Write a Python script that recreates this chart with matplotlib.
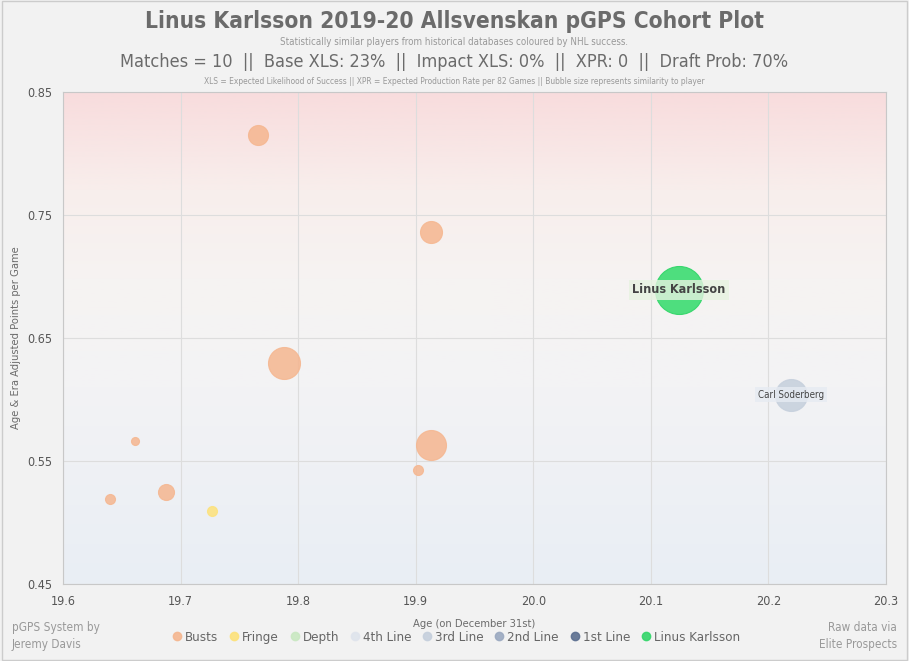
import numpy as np
import matplotlib
matplotlib.use("Agg")
import matplotlib.pyplot as plt
from matplotlib.colors import LinearSegmentedColormap
from matplotlib.lines import Line2D

# cohort players (age, adjusted PPG, bubble radius in px, tier)
ages = [19.766, 19.913, 19.788, 19.913, 19.902, 19.661, 19.640, 19.688, 19.727, 20.219, 20.124]
ppg = [0.815, 0.736, 0.630, 0.563, 0.543, 0.566, 0.519, 0.525, 0.509, 0.604, 0.689]
radius = [10, 11, 16, 15, 5, 4, 5, 8, 5, 16, 24]
tiers = ["Busts", "Busts", "Busts", "Busts", "Busts", "Busts", "Busts", "Busts",
         "Fringe", "3rd Line", "Linus Karlsson"]
names = ["", "", "", "", "", "", "", "", "", "Carl Soderberg", "Linus Karlsson"]

legend_tiers = ["Busts", "Fringe", "Depth", "4th Line", "3rd Line", "2nd Line", "1st Line", "Linus Karlsson"]
tier_colors = ["#f5b68f", "#fde27a", "#c9e8c2", "#dfe4ec", "#c5cfdc", "#9ba9c0", "#5c6f90", "#33d66a"]
cmap = dict(zip(legend_tiers, tier_colors))

xticks = [19.6, 19.7, 19.8, 19.9, 20.0, 20.1, 20.2, 20.3]
yticks = [0.45, 0.55, 0.65, 0.75, 0.85]

plt.rcParams['font.family'] = ['DejaVu Sans']
plt.rcParams['font.stretch'] = 'condensed'
grey = "#6b6b6b"

fig = plt.figure(figsize=(9.09, 6.61), dpi=100, facecolor="#f2f2f2")
ax = fig.add_axes([0.0693, 0.1165, 0.9054, 0.7445])

# background gradient
grad = LinearSegmentedColormap.from_list(
    "bg", [(0, "#e9eef4"), (0.4, "#f3f3f5"), (0.62, "#f6f3f2"), (0.8, "#f8eeec"), (1, "#f8dcdd")])
ax.imshow(np.linspace(0, 1, 256).reshape(-1, 1), cmap=grad, aspect="auto",
          extent=[19.6, 20.3, 0.45, 0.85], origin="lower", zorder=0)

for x, y, r, t, n in zip(ages, ppg, radius, tiers, names):
    c = cmap[t]
    big = t == "Linus Karlsson"
    ax.scatter(x, y, s=(1.44 * r) ** 2, color=c if not big else "#45dd78", alpha=0.85 if not big else 0.95,
               edgecolors=c, linewidths=0.8, zorder=3)
    if n:
        ax.text(x, y, n, ha="center", va="center", fontsize=9 if big else 7,
                fontweight="bold" if big else "normal", color="#444444", zorder=4,
                bbox=dict(boxstyle="square,pad=0.3", fc="#e6f2e0" if big else "#e6ebf2",
                          ec="none", alpha=0.8))

ax.set_xlim(19.6, 20.3)
ax.set_ylim(0.45, 0.85)
ax.set_xticks(xticks)
ax.set_xticklabels([f"{v:.1f}" for v in xticks])
ax.set_yticks(yticks)
ax.set_yticklabels([f"{v:.2f}" for v in yticks])
ax.grid(True, color="#dddddd", linewidth=0.8, zorder=1)
ax.set_axisbelow(True)
ax.tick_params(length=0, labelsize=9, colors="#555555", pad=8)
for s in ax.spines.values():
    s.set_color("#c8c8c8")
ax.set_xlabel("Age (on December 31st)", fontsize=8, color=grey, labelpad=8)
ax.set_ylabel("Age & Era Adjusted Points per Game", fontsize=8, color=grey, labelpad=4)

fig.text(0.5, 0.968, "Linus Karlsson 2019-20 Allsvenskan pGPS Cohort Plot", ha="center", va="center",
         fontsize=16.3, fontweight="bold", color=grey)
fig.text(0.5, 0.937, "Statistically similar players from historical databases coloured by NHL success.",
         ha="center", va="center", fontsize=7, color="#999999")
fig.text(0.5, 0.906, "Matches = 10  ||  Base XLS: 23%  ||  Impact XLS: 0%  ||  XPR: 0  ||  Draft Prob: 70%",
         ha="center", va="center", fontsize=13, color=grey)
fig.text(0.5, 0.876, "XLS = Expected Likelihood of Success || XPR = Expected Production Rate per 82 Games || Bubble size represents similarity to player",
         ha="center", va="center", fontsize=6, color="#999999")

handles = [Line2D([], [], marker="o", linestyle="", markersize=6, markerfacecolor=c,
                  markeredgecolor=c, alpha=0.9) for c in tier_colors]
fig.legend(handles, legend_tiers, loc="center", bbox_to_anchor=(0.5, 0.036), ncol=8,
           frameon=False, prop=dict(size=9.5, stretch="condensed"), handletextpad=0.0,
           handlelength=1.2, columnspacing=0.6, labelcolor="#666666")

fig.text(0.013, 0.038, "pGPS System by\nJeremy Davis", ha="left", va="center", fontsize=8.5,
         color="#999999", linespacing=1.4)
fig.text(0.987, 0.038, "Raw data via\nElite Prospects", ha="right", va="center", fontsize=8.5,
         color="#999999", linespacing=1.4, multialignment="right")

fig.add_artist(plt.Rectangle((0.002, 0.002), 0.996, 0.996, transform=fig.transFigure,
                             fill=False, ec="#cccccc", lw=1))

fig.savefig("out.png", dpi=100, facecolor=fig.get_facecolor())
